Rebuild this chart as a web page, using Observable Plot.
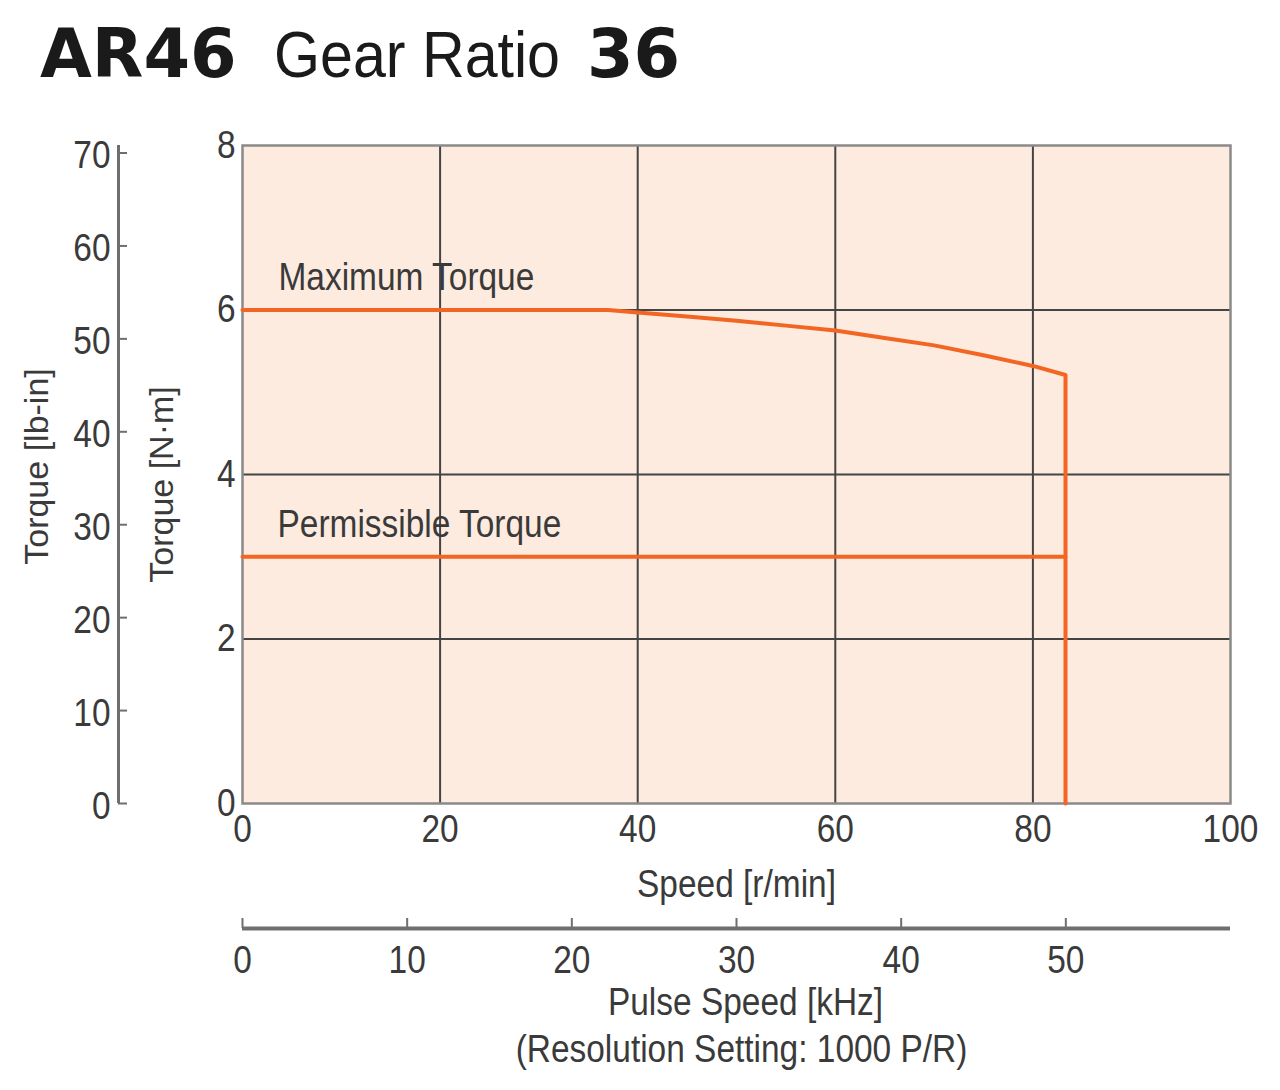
<!DOCTYPE html>
<html>
<head>
<meta charset="utf-8">
<script src="https://cdn.jsdelivr.net/npm/d3@7"></script>
<script src="https://cdn.jsdelivr.net/npm/@observablehq/plot@0.6"></script>
<style>
  html, body { margin: 0; padding: 0; background: #ffffff; }
  svg { display: block; }
  #chart { width: 1280px; }
</style>
</head>
<body>
<svg id="head" width="1280" height="120">
  <text x="40" y="77" font-family="'DejaVu Sans', sans-serif" font-weight="bold" font-size="67" fill="#1a1a1a">AR46</text>
  <text x="274" y="77" font-family="'Liberation Sans', Arial, sans-serif" font-size="65" fill="#1a1a1a" textLength="286" lengthAdjust="spacingAndGlyphs">Gear Ratio</text>
  <text x="587" y="77" font-family="'DejaVu Sans', sans-serif" font-weight="bold" font-size="67" fill="#1a1a1a">36</text>
</svg>
<div id="chart"></div>
<script>
// ---- data ----
const speed     = [0, 10, 20, 30, 37, 40, 45, 50, 55, 60, 65, 70, 75, 80, 83.3, 83.3];
const maxTorque = [6.0, 6.0, 6.0, 6.0, 6.0, 5.97, 5.92, 5.87, 5.81, 5.75, 5.66, 5.57, 5.45, 5.32, 5.21, 0];
const permSpeed  = [0, 83.3];
const permTorque = [3.0, 3.0];

const xTicks = [0, 20, 40, 60, 80, 100];
const yTicks = [0, 2, 4, 6, 8];
const gridXTicks = [20, 40, 60, 80];
const gridYTicks = [2, 4, 6];
const lbTicks = [0, 10, 20, 30, 40, 50, 60, 70];
const pulseTicks = [0, 10, 20, 30, 40, 50];

const LB_PER_NM = 8.851;     // lb-in per N·m
const RPM_PER_KHZ = 60 / 36; // 1000 P/R, gear ratio 36

const labels = {
  max: "Maximum Torque",
  perm: "Permissible Torque",
  x: "Speed [r/min]",
  yNm: "Torque [N·m]",
  yLb: "Torque [lb-in]",
  pulse: "Pulse Speed [kHz]",
  resolution: "(Resolution Setting: 1000 P/R)"
};

// ---- styling ----
const FONT = "'Liberation Sans', Arial, sans-serif";
const TEXT = "#3a3a3a";
const BG = "#fdebdf";
const GRID = "#444444";
const FRAME = "#8a8a8a";
const ORANGE = "#f26522";
const FS = 38;
const FS_ROT = 34;
const CONDENSE = 0.88;

const maxData = speed.map((s, i) => ({speed: s, torque: maxTorque[i]}));
const permData = permSpeed.map((s, i) => ({speed: s, torque: permTorque[i]}));
const fmtInt = d3.format("d");

const chart = Plot.plot({
  width: 1280,
  height: 970,
  marginTop: 25,
  marginLeft: 242,
  marginRight: 50,
  marginBottom: 287,
  style: {fontFamily: FONT, fontSize: FS + "px", color: TEXT, background: "transparent"},
  x: {domain: [0, 100]},
  y: {domain: [0, 8]},
  marks: [
    Plot.frame({fill: BG}),
    Plot.gridX(gridXTicks, {stroke: GRID, strokeOpacity: 1, strokeWidth: 2}),
    Plot.gridY(gridYTicks, {stroke: GRID, strokeOpacity: 1, strokeWidth: 2}),
    Plot.frame({stroke: FRAME, strokeWidth: 2.5}),
    Plot.line(maxData, {x: "speed", y: "torque", stroke: ORANGE, strokeWidth: 4}),
    Plot.line(permData, {x: "speed", y: "torque", stroke: ORANGE, strokeWidth: 4}),
    Plot.text([maxData[0]], {x: "speed", y: "torque", text: () => labels.max, textAnchor: "start", lineAnchor: "middle", dx: 36, dy: -32, fontSize: FS, fill: TEXT}),
    Plot.text([permData[0]], {x: "speed", y: "torque", text: () => labels.perm, textAnchor: "start", lineAnchor: "middle", dx: 35, dy: -32, fontSize: FS, fill: TEXT}),
    // main axes
    Plot.axisX(xTicks, {tickSize: 0, tickPadding: 12, tickFormat: fmtInt, label: null, fontSize: FS, fill: TEXT}),
    Plot.axisY(yTicks, {tickSize: 0, tickPadding: 7, tickFormat: fmtInt, label: null, fontSize: FS, fill: TEXT}),
    // lb-in axis
    Plot.ruleX([0], {dx: -124, stroke: "#6f6f6f", strokeWidth: 3}),
    Plot.axisY(lbTicks.map(v => v / LB_PER_NM), {tickSize: 9, tickFormat: () => "", label: null, dx: -115, stroke: "#6f6f6f", strokeWidth: 2}),
    Plot.axisY(lbTicks.map(v => v / LB_PER_NM), {tickSize: 0, tickPadding: 0, tickFormat: d => Math.round(d * LB_PER_NM), label: null, dx: -132, dy: 3, fontSize: FS, fill: TEXT}),
    // pulse speed axis
    Plot.ruleY([0], {dy: 125, stroke: "#6f6f6f", strokeWidth: 4}),
    Plot.axisX(pulseTicks.map(k => k * RPM_PER_KHZ), {tickSize: 10, tickFormat: () => "", label: null, dy: 115, stroke: "#6f6f6f", strokeWidth: 2}),
    Plot.axisX(pulseTicks.map(k => k * RPM_PER_KHZ), {tickSize: 0, tickPadding: 0, tickFormat: d => Math.round(d / RPM_PER_KHZ), label: null, dy: 143, fontSize: FS, fill: TEXT}),
    // axis titles
    Plot.text([labels.x], {frameAnchor: "bottom", text: d => d, textAnchor: "middle", lineAnchor: "middle", dy: 81, fontSize: FS, fill: TEXT}),
    Plot.text([labels.pulse], {frameAnchor: "bottom", text: d => d, textAnchor: "middle", lineAnchor: "middle", dx: 9, dy: 199, fontSize: FS, fill: TEXT}),
    Plot.text([labels.resolution], {frameAnchor: "bottom", text: d => d, textAnchor: "middle", lineAnchor: "middle", dx: 5, dy: 246, fontSize: FS, fill: TEXT}),
    Plot.text([labels.yNm], {frameAnchor: "left", text: d => d, rotate: -90, textAnchor: "middle", lineAnchor: "middle", dx: -80, dy: 10, fontSize: FS_ROT, fill: TEXT}),
    Plot.text([labels.yLb], {frameAnchor: "left", text: d => d, rotate: -90, textAnchor: "middle", lineAnchor: "middle", dx: -205, dy: -8, fontSize: FS_ROT, fill: TEXT})
  ]
});
document.getElementById("chart").appendChild(chart);

// condense horizontal text to mimic the reference's condensed typeface
chart.querySelectorAll("text").forEach(t => {
  const tr = (t.getAttribute("transform") || "") + (t.parentNode.getAttribute("transform") || "");
  if (tr.includes("rotate")) return;
  const len = t.getComputedTextLength();
  if (len > 0) {
    t.setAttribute("textLength", (len * CONDENSE).toFixed(1));
    t.setAttribute("lengthAdjust", "spacingAndGlyphs");
  }
});
</script>
</body>
</html>
